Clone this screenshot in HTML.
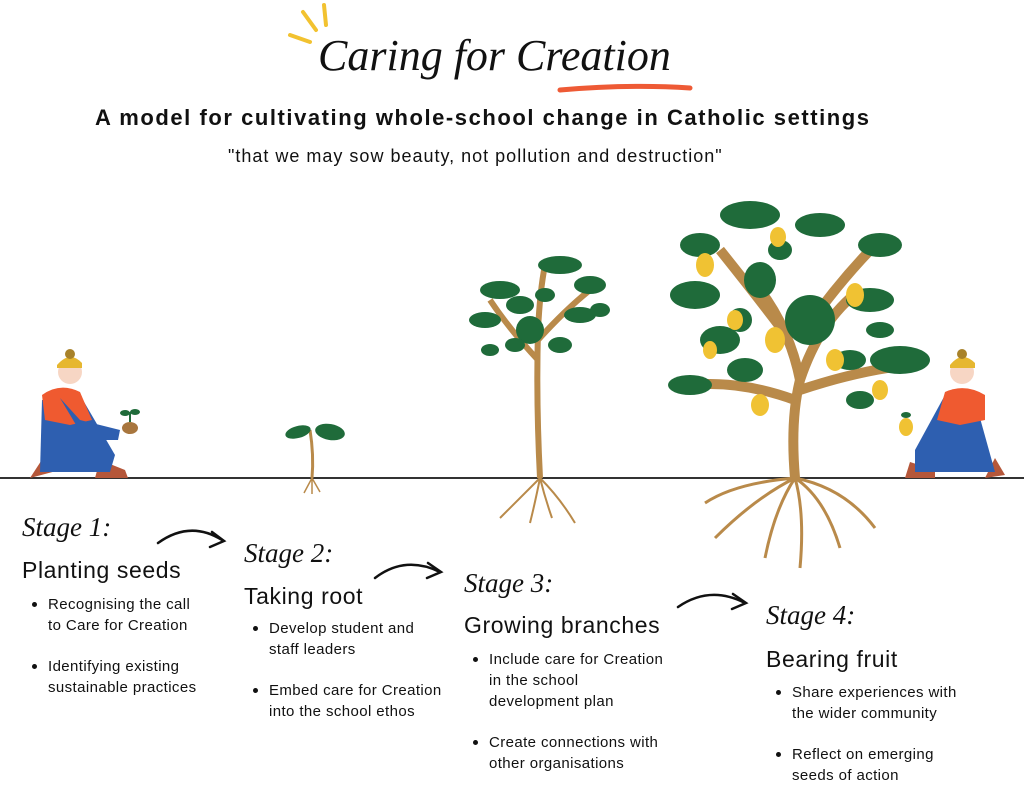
<!DOCTYPE html>
<html><head><meta charset="utf-8"><style>
html,body{margin:0;padding:0;background:#fff;}
body{width:1024px;height:783px;position:relative;overflow:hidden;font-family:"Liberation Sans",sans-serif;color:#111;}
.t{position:absolute;white-space:nowrap;}
.script{font-family:"Liberation Serif",serif;font-style:italic;}
.h{font-size:23px;letter-spacing:0.6px;}
.li{font-size:15px;line-height:21px;position:absolute;letter-spacing:0.4px;}
.li div{position:relative;padding-left:24px;}
.li div:before{content:"";position:absolute;left:8px;top:8px;width:5px;height:5px;border-radius:50%;background:#111;}
</style></head><body>
<svg width="1024" height="783" style="position:absolute;left:0;top:0">
<g stroke="#f2c230" stroke-width="4" stroke-linecap="round">
<line x1="290" y1="35" x2="310" y2="42"/><line x1="303" y1="12" x2="316" y2="30"/><line x1="324" y1="5" x2="326" y2="25"/>
</g>
<path d="M560 90 Q630 84 690 88" stroke="#ee5a35" stroke-width="5" fill="none" stroke-linecap="round"/>
<line x1="0" y1="478" x2="1024" y2="478" stroke="#333" stroke-width="2"/>
<g stroke="#111" stroke-width="2.5" fill="none" stroke-linecap="round">
<path d="M158 543 Q190 520 222 540"/><path d="M212 532 L224 541 L210 547"/>
<path d="M375 578 Q405 555 440 572"/><path d="M428 563 L441 572 L427 578"/>
<path d="M678 607 Q710 585 745 603"/><path d="M733 594 L746 603 L732 609"/>
</g>
<g>
<path d="M312 478 Q314 455 310 430" stroke="#b98a4a" stroke-width="3" fill="none"/>
<ellipse cx="298" cy="432" rx="13" ry="6" fill="#1f6b3a" transform="rotate(-15 298 432)"/>
<ellipse cx="330" cy="432" rx="15" ry="8" fill="#1f6b3a" transform="rotate(10 330 432)"/>
<path d="M312 478 l-8 15 M312 478 l8 14 M312 478 l0 16" stroke="#b98a4a" stroke-width="1.5"/>
</g>
<g>
<path d="M540 478 Q536 400 538 330 M538 360 Q510 330 490 300 M538 340 Q565 310 590 290 M538 330 Q540 290 545 265" stroke="#b98a4a" stroke-width="6" fill="none"/>
<g fill="#1f6b3a">
<ellipse cx="500" cy="290" rx="20" ry="9"/><ellipse cx="485" cy="320" rx="16" ry="8"/><ellipse cx="520" cy="305" rx="14" ry="9"/>
<ellipse cx="560" cy="265" rx="22" ry="9"/><ellipse cx="590" cy="285" rx="16" ry="9"/><ellipse cx="580" cy="315" rx="16" ry="8"/>
<ellipse cx="530" cy="330" rx="14" ry="14"/><ellipse cx="560" cy="345" rx="12" ry="8"/><ellipse cx="600" cy="310" rx="10" ry="7"/>
<ellipse cx="515" cy="345" rx="10" ry="7"/><ellipse cx="545" cy="295" rx="10" ry="7"/><ellipse cx="490" cy="350" rx="9" ry="6"/>
</g>
<path d="M540 478 q-20 20 -40 40 M540 478 q20 20 35 45 M540 478 q-5 25 -10 45 M540 478 q5 20 12 40" stroke="#b98a4a" stroke-width="2" fill="none"/>
</g>
<g>
<path d="M795 478 Q790 420 800 380 Q790 330 760 290 M800 380 Q820 320 860 290 M795 400 Q740 380 690 385 M800 390 Q860 370 910 365 M790 340 Q760 300 720 250 M805 330 Q840 280 880 240" stroke="#b98a4a" stroke-width="10" fill="none"/>
<g fill="#1f6b3a">
<ellipse cx="750" cy="215" rx="30" ry="14"/><ellipse cx="820" cy="225" rx="25" ry="12"/><ellipse cx="880" cy="245" rx="22" ry="12"/>
<ellipse cx="700" cy="245" rx="20" ry="12"/><ellipse cx="695" cy="295" rx="25" ry="14"/><ellipse cx="720" cy="340" rx="20" ry="14"/>
<ellipse cx="690" cy="385" rx="22" ry="10"/><ellipse cx="760" cy="280" rx="16" ry="18"/><ellipse cx="810" cy="320" rx="25" ry="25"/>
<ellipse cx="870" cy="300" rx="24" ry="12"/><ellipse cx="900" cy="360" rx="30" ry="14"/><ellipse cx="850" cy="360" rx="16" ry="10"/>
<ellipse cx="745" cy="370" rx="18" ry="12"/><ellipse cx="860" cy="400" rx="14" ry="9"/><ellipse cx="780" cy="250" rx="12" ry="10"/>
<ellipse cx="880" cy="330" rx="14" ry="8"/><ellipse cx="740" cy="320" rx="12" ry="12"/>
</g>
<g fill="#f0c233">
<ellipse cx="705" cy="265" rx="9" ry="12"/><ellipse cx="775" cy="340" rx="10" ry="13"/><ellipse cx="855" cy="295" rx="9" ry="12"/>
<ellipse cx="835" cy="360" rx="9" ry="11"/><ellipse cx="760" cy="405" rx="9" ry="11"/><ellipse cx="880" cy="390" rx="8" ry="10"/>
<ellipse cx="735" cy="320" rx="8" ry="10"/><ellipse cx="778" cy="237" rx="8" ry="10"/><ellipse cx="710" cy="350" rx="7" ry="9"/>
</g>
<path d="M795 478 q-40 20 -80 60 M795 478 q-20 30 -30 80 M795 478 q10 35 5 90 M795 478 q30 20 45 70 M795 478 q50 10 80 50 M795 478 q-60 5 -90 25" stroke="#b98a4a" stroke-width="3" fill="none"/>
</g>
<g>
<path d="M30 478 L45 455 L60 470 Z" fill="#b5573a"/>
<path d="M95 478 L100 460 L125 470 L128 478Z" fill="#b5573a"/>
<path d="M42 400 L80 395 L115 455 L110 472 L40 472 Z" fill="#2e5fb0"/>
<path d="M42 395 Q60 382 80 392 L92 420 L70 425 L45 420Z" fill="#ef5a30"/>
<path d="M60 398 L85 440 L118 440 L120 430 L80 420 Z" fill="#2e5fb0"/>
<circle cx="70" cy="372" r="12" fill="#f7d6c4"/>
<path d="M57 365 Q70 350 82 363 L82 368 L57 368Z" fill="#e6b730"/>
<circle cx="70" cy="354" r="5" fill="#a8822a"/>
<ellipse cx="130" cy="428" rx="8" ry="6" fill="#a8763e"/>
<path d="M130 422 l0 -10" stroke="#1f6b3a" stroke-width="2"/><ellipse cx="125" cy="413" rx="5" ry="3" fill="#1f6b3a"/><ellipse cx="135" cy="412" rx="5" ry="3" fill="#1f6b3a"/>
</g>
<g>
<path d="M905 478 L910 462 L935 470 L935 478Z" fill="#b5573a"/>
<path d="M985 478 L995 458 L1005 475 Z" fill="#b5573a"/>
<path d="M975 400 L945 395 L915 450 L915 472 L995 472 Z" fill="#2e5fb0"/>
<path d="M985 395 Q965 383 945 392 L937 420 L960 425 L985 420Z" fill="#ef5a30"/>
<circle cx="962" cy="372" r="12" fill="#f7d6c4"/>
<path d="M950 365 Q962 350 975 363 L975 368 L950 368Z" fill="#e6b730"/>
<circle cx="962" cy="354" r="5" fill="#a8822a"/>
<ellipse cx="906" cy="427" rx="7" ry="9" fill="#f0c233"/><ellipse cx="906" cy="415" rx="5" ry="3" fill="#1f6b3a"/>
</g>
</svg>
<div class="t script" style="left:318px;top:30px;font-size:44px;">Caring for Creation</div>
<div class="t" style="left:95px;top:105px;font-size:22px;font-weight:bold;letter-spacing:1.55px;">A model for cultivating whole-school change in Catholic settings</div>
<div class="t" style="left:228px;top:146px;font-size:18px;letter-spacing:1px;">"that we may sow beauty, not pollution and destruction"</div>

<div class="t script" style="left:22px;top:512px;font-size:27px;">Stage 1:</div>
<div class="t h" style="left:22px;top:557px;">Planting seeds</div>
<div class="li" style="left:24px;top:594px;"><div>Recognising the call<br>to Care for Creation</div><div style="margin-top:20px">Identifying existing<br>sustainable practices</div></div>

<div class="t script" style="left:244px;top:538px;font-size:27px;">Stage 2:</div>
<div class="t h" style="left:244px;top:583px;">Taking root</div>
<div class="li" style="left:245px;top:618px;"><div>Develop student and<br>staff leaders</div><div style="margin-top:20px">Embed care for Creation<br>into the school ethos</div></div>

<div class="t script" style="left:464px;top:568px;font-size:27px;">Stage 3:</div>
<div class="t h" style="left:464px;top:612px;">Growing branches</div>
<div class="li" style="left:465px;top:649px;"><div>Include care for Creation<br>in the school<br>development plan</div><div style="margin-top:20px">Create connections with<br>other organisations</div></div>

<div class="t script" style="left:766px;top:600px;font-size:27px;">Stage 4:</div>
<div class="t h" style="left:766px;top:646px;">Bearing fruit</div>
<div class="li" style="left:768px;top:682px;"><div>Share experiences with<br>the wider community</div><div style="margin-top:20px">Reflect on emerging<br>seeds of action</div></div>
</body></html>
